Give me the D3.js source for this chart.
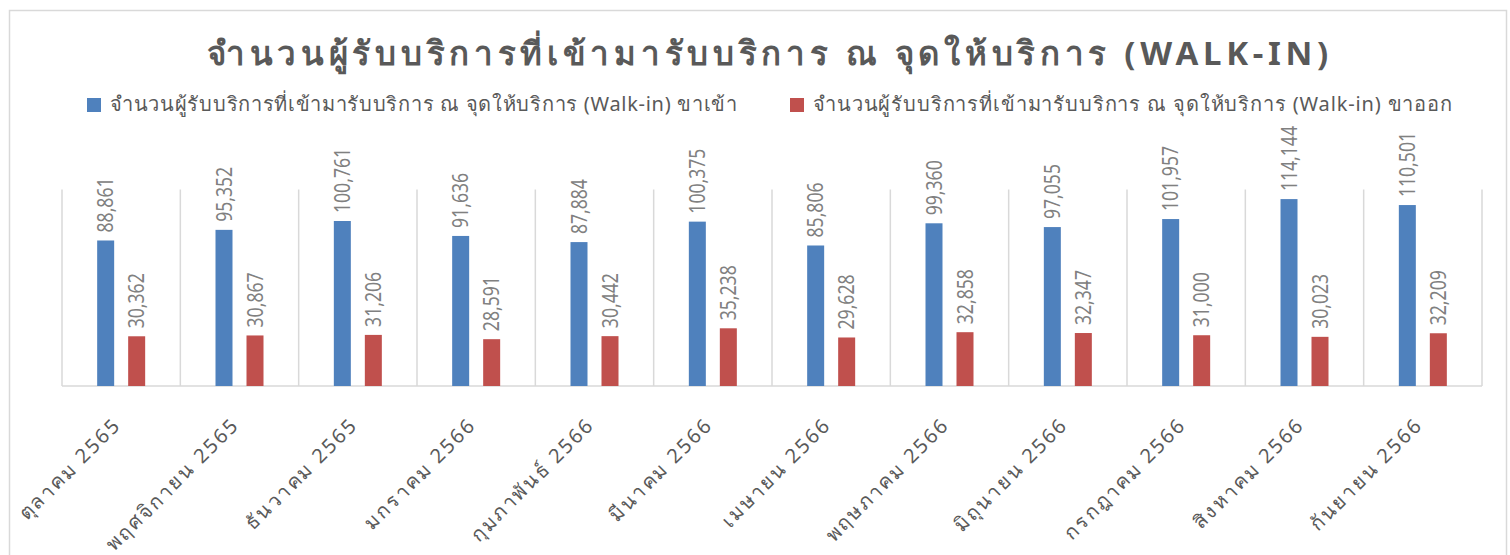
<!DOCTYPE html>
<html>
<head>
<meta charset="utf-8">
<script src="https://cdn.jsdelivr.net/npm/d3@7"></script>
<style>
    body { margin: 0; background: #fff; }
    text { font-family: "Noto Sans", sans-serif; }
</style>
</head>
<body>
<div id="chart"></div>
<script>

// chart data
let months = ["ตุลาคม 2565", "พฤศจิกายน 2565", "ธันวาคม 2565", "มกราคม 2566", "กุมภาพันธ์ 2566", "มีนาคม 2566",
    "เมษายน 2566", "พฤษภาคม 2566", "มิถุนายน 2566", "กรกฎาคม 2566", "สิงหาคม 2566", "กันยายน 2566"];
let walkInIn = [88861, 95352, 100761, 91636, 87884, 100375, 85806, 99360, 97055, 101957, 114144, 110501];
let walkInOut = [30362, 30867, 31206, 28591, 30442, 35238, 29628, 32858, 32347, 31000, 30023, 32209];
let seriesNames = ["จำนวนผู้รับบริการที่เข้ามารับบริการ ณ จุดให้บริการ (Walk-in) ขาเข้า",
    "จำนวนผู้รับบริการที่เข้ามารับบริการ ณ จุดให้บริการ (Walk-in) ขาออก"];
let chartTitle = "จำนวนผู้รับบริการที่เข้ามารับบริการ ณ จุดให้บริการ (WALK-IN)";
let yMax = 120000;

let colors = ["#4f81bd", "#c0504d"];

let width = 1510, height = 555;
let margin = {top: 189.5, right: 28, bottom: 169, left: 62};

let svg = d3.select("#chart").append("svg")
    .attr("width", width)
    .attr("height", height);

// chart frame
svg.append("rect")
    .attr("x", 9.5).attr("y", 10.5)
    .attr("width", 1497).attr("height", 600)
    .attr("fill", "none")
    .attr("stroke", "#d9d9d9")
    .attr("stroke-width", 1.5);

// title
svg.append("text")
    .attr("x", 770).attr("y", 65)
    .attr("text-anchor", "middle")
    .attr("fill", "#595959")
    .style("font-size", "33px")
    .style("font-weight", "bold")
    .style("letter-spacing", "4.7px")
    .text(chartTitle);

// legend
let legendX = [87, 790];
let legendLen = [627, 639];
seriesNames.forEach((name, i) => {
    let g = svg.append("g").attr("transform", `translate(${legendX[i]}, 98)`);
    g.append("rect").attr("width", 14).attr("height", 14).attr("fill", colors[i]);
    g.append("text")
        .attr("x", 23).attr("y", 13)
        .attr("fill", "#595959")
        .attr("textLength", legendLen[i])
        .attr("lengthAdjust", "spacing")
        .style("font-size", "20px")
        .text(name);
});

let x0 = d3.scaleBand()
    .domain(months)
    .range([margin.left, width - margin.right]);

let y = d3.scaleLinear()
    .domain([0, yMax])
    .range([height - margin.bottom, margin.top]);

let barW = 17, barGap = 14;
let offsets = [-(barGap / 2 + barW), barGap / 2];

// vertical gridlines between categories
let edges = months.map(m => x0(m)).concat([x0.range()[1]]);
svg.append("g").selectAll("line")
    .data(edges)
    .enter().append("line")
    .attr("x1", d => d).attr("x2", d => d)
    .attr("y1", y(yMax)).attr("y2", y(0))
    .attr("stroke", "#d9d9d9")
    .attr("stroke-width", 1.5);

// baseline
svg.append("line")
    .attr("x1", x0.range()[0]).attr("x2", x0.range()[1])
    .attr("y1", y(0)).attr("y2", y(0))
    .attr("stroke", "#d9d9d9")
    .attr("stroke-width", 1.5);

let series = [walkInIn, walkInOut];
series.forEach((vals, s) => {
    let g = svg.append("g");
    g.selectAll("rect")
        .data(vals)
        .enter().append("rect")
        .attr("x", (d, i) => x0(months[i]) + x0.bandwidth() / 2 + offsets[s])
        .attr("y", d => y(d))
        .attr("width", barW)
        .attr("height", d => y(0) - y(d))
        .attr("fill", colors[s]);

    // value labels, squeezed along the text direction like the original
    g.selectAll("text")
        .data(vals)
        .enter().append("text")
        .attr("transform", (d, i) => {
            let cx = x0(months[i]) + x0.bandwidth() / 2 + offsets[s] + barW / 2;
            return `translate(${cx + 7.5}, ${y(d) - 8}) rotate(-90) scale(0.8, 1)`;
        })
        .attr("fill", "#808080")
        .style("font-size", "22px")
        .text(d => d3.format(",")(d));
});

// x axis labels
svg.append("g").selectAll("text")
    .data(months)
    .enter().append("text")
    .attr("transform", m => `translate(${x0(m) + x0.bandwidth() / 2 + 1}, 426) rotate(-45)`)
    .attr("text-anchor", "end")
    .attr("fill", "#595959")
    .style("font-size", "20px")
    .style("letter-spacing", "2.2px")
    .text(m => m);

</script>
</body>
</html>
